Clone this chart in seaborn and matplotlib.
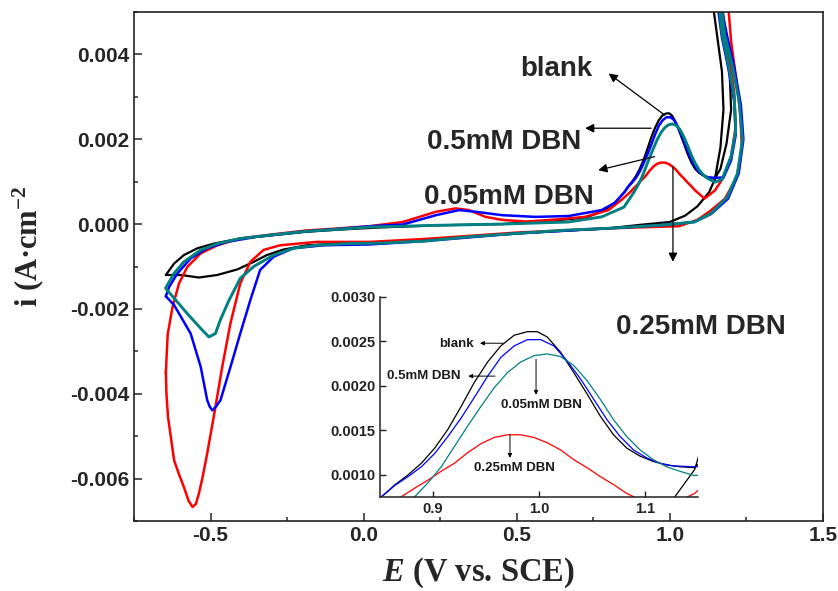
import matplotlib
matplotlib.use("Agg")
import matplotlib.pyplot as plt
import seaborn as sns
from matplotlib.ticker import MultipleLocator, FormatStrFormatter

# cyclic voltammograms, E (V vs. SCE) and i (A/cm2), traced around each loop
black_E = [-0.646, -0.619, -0.587, -0.543, -0.489, -0.403, -0.294, -0.186, -0.078, 0.052, 0.236, 0.452, 0.615,
           0.723, 0.78, 0.82,
           0.8516, 0.864, 0.8766, 0.889, 0.9016, 0.914, 0.9266, 0.939, 0.9516, 0.964, 0.9766, 0.989, 0.9984,
           1.0078, 1.0203, 1.0328, 1.0453, 1.0578, 1.0703, 1.0828, 1.0953, 1.1078, 1.1203, 1.1328, 1.1469,
           1.165, 1.185, 1.2, 1.195, 1.18, 1.165, 1.14, 1.155, 1.17, 1.175,
           1.165, 1.1469, 1.128, 1.09, 1.05, 1.0, 0.9, 0.8, 0.5, 0.2, 0.052, -0.078, -0.186, -0.262, -0.316,
           -0.359, -0.413, -0.478, -0.538, -0.597, -0.646]
black_i = [-0.0012, -0.00093, -0.00073, -0.00057, -0.00046, -0.00034, -0.00026, -0.00018, -0.00013, -0.00008,
           -0.00003, 0.0, 0.00008, 0.00015, 0.0003, 0.0005,
           0.000754, 0.000887, 0.0010, 0.00113, 0.0013, 0.00151, 0.00177, 0.00204, 0.00227, 0.00245, 0.00257,
           0.00261, 0.00261, 0.00255, 0.00238, 0.00215, 0.00191, 0.00166, 0.00145, 0.0013, 0.00121, 0.00115,
           0.00111, 0.00109, 0.00108,
           0.0013, 0.0019, 0.0027, 0.0036, 0.0044, 0.0052, 0.0052, 0.0044, 0.0036, 0.0027,
           0.0018, 0.00106, 0.00075, 0.00042, 0.0002, 0.00005, -0.00002, -0.0001, -0.00022, -0.00038, -0.00046,
           -0.00046, -0.0005, -0.0006, -0.00073, -0.00089, -0.00107, -0.0012, -0.00126, -0.0012, -0.0012]

red_E = [-0.646, -0.64, -0.624, -0.603, -0.576, -0.532, -0.478, -0.403, -0.294, -0.186, -0.078, 0.02, 0.128,
         0.236, 0.301, 0.344, 0.398, 0.452, 0.528, 0.615, 0.723, 0.799, 0.842,
         0.8703, 0.8828, 0.8953, 0.9078, 0.9203, 0.9328, 0.9453, 0.9578, 0.9703, 0.9828, 0.9953, 1.0078,
         1.0203, 1.0328, 1.0453, 1.0578, 1.0703, 1.0828, 1.0891,
         1.113, 1.1469, 1.175, 1.2, 1.215, 1.21, 1.195, 1.18, 1.17,
         1.19, 1.2, 1.215, 1.23, 1.235, 1.218, 1.18, 1.13, 1.09, 1.03, 0.8, 0.5, 0.2, 0.02, -0.154,
         -0.273, -0.327, -0.37, -0.403, -0.435, -0.462, -0.484, -0.511, -0.527, -0.538, -0.548, -0.559,
         -0.572, -0.587, -0.603, -0.619, -0.639, -0.644, -0.646]
red_i = [-0.0035, -0.0026, -0.00195, -0.0014, -0.00101, -0.00069, -0.0005, -0.00034, -0.00024, -0.00015,
         -0.0001, -0.00005, 0.00005, 0.00029, 0.00037, 0.00033, 0.00017, 0.0001, 0.00006, 0.0001, 0.00017,
         0.00033, 0.00057,
         0.000754, 0.00085, 0.00094, 0.00104, 0.00113, 0.00125, 0.00135, 0.00142, 0.00145, 0.00145, 0.00142,
         0.00136, 0.00128, 0.00117, 0.00108, 0.00098, 0.00089, 0.00079, 0.000754,
         0.0006, 0.00079, 0.0011, 0.0016, 0.0023, 0.0031, 0.0039, 0.0046, 0.0052,
         0.0052, 0.0043, 0.0035, 0.0026, 0.0018, 0.0011, 0.0006, 0.0003, 0.0001, -0.00005, -0.0001, -0.0002,
         -0.00035, -0.00042, -0.00042, -0.0005, -0.00061, -0.00089, -0.0014, -0.00234, -0.00337, -0.00431,
         -0.00541, -0.006, -0.00635, -0.0066, -0.00667, -0.00652, -0.0062, -0.0059, -0.00557, -0.00454,
         -0.004, -0.0035]

blue_E = [-0.646, -0.635, -0.608, -0.565, -0.511, -0.446, -0.35, -0.2, -0.078, 0.02, 0.128, 0.236, 0.312,
          0.366, 0.452, 0.561, 0.669, 0.777, 0.82,
          0.8516, 0.864, 0.8766, 0.889, 0.9016, 0.914, 0.9266, 0.939, 0.9516, 0.964, 0.9766, 0.989, 1.0016,
          1.0141, 1.0266, 1.0391, 1.0516, 1.0641, 1.0766, 1.0891, 1.1016, 1.1141, 1.1266, 1.1469,
          1.175, 1.2, 1.215, 1.21, 1.19, 1.17, 1.155,
          1.165, 1.185, 1.21, 1.232, 1.24, 1.225, 1.19, 1.135, 1.08, 0.98, 0.8, 0.5, 0.2, 0.02, -0.132, -0.23,
          -0.294, -0.338, -0.37, -0.403, -0.435, -0.4675, -0.482, -0.4945, -0.503, -0.511, -0.532, -0.565,
          -0.619, -0.646]
blue_i = [-0.0017, -0.00148, -0.00116, -0.00081, -0.00057, -0.00042, -0.0003, -0.00018, -0.00011, -0.00005,
          -0.00001, 0.00021, 0.00033, 0.00029, 0.00021, 0.00017, 0.00019, 0.00033, 0.0005,
          0.000754, 0.00088, 0.00098, 0.00109, 0.00124, 0.00143, 0.00164, 0.00187, 0.00211, 0.00232, 0.00245,
          0.00252, 0.00252, 0.00245, 0.00228, 0.00208, 0.00185, 0.00162, 0.00143, 0.00128, 0.00119, 0.00113,
          0.0011, 0.00109,
          0.0011, 0.0015, 0.0021, 0.0029, 0.0037, 0.0044, 0.0052,
          0.0052, 0.0045, 0.0037, 0.0028, 0.002, 0.0012, 0.0006, 0.00024, 0.00005, -0.00002, -0.0001, -0.00022,
          -0.0004, -0.00048, -0.0005, -0.00057, -0.00077, -0.00108, -0.00179, -0.00258, -0.00337, -0.00415,
          -0.0043, -0.00439, -0.0043, -0.00415, -0.00337, -0.00258, -0.00191, -0.0017]

teal_E = [-0.646, -0.619, -0.587, -0.532, -0.478, -0.403, -0.294, -0.186, -0.078, 0.02, 0.236, 0.452, 0.669,
          0.777, 0.85,
          0.8828, 0.8953, 0.9078, 0.9203, 0.9328, 0.9453, 0.9578, 0.9703, 0.9828, 0.9953, 1.0078, 1.0203,
          1.0328, 1.0453, 1.0578, 1.0703, 1.0828, 1.0953, 1.1078, 1.1203, 1.1328, 1.1469,
          1.17, 1.2, 1.215, 1.21, 1.19, 1.17, 1.16,
          1.167, 1.178, 1.205, 1.226, 1.237, 1.221, 1.188, 1.134, 1.08, 0.983, 0.8, 0.669, 0.5, 0.344, 0.2,
          0.05, -0.056, -0.154, -0.23, -0.294, -0.359, -0.403, -0.44, -0.468, -0.484, -0.5055, -0.532, -0.576,
          -0.646]
teal_i = [-0.0015, -0.00116, -0.00089, -0.00061, -0.00046, -0.00034, -0.00025, -0.00017, -0.00012, -0.00007,
          -0.00003, 0.0, 0.00005, 0.00017, 0.0004,
          0.000754, 0.00091, 0.00109, 0.00132, 0.00155, 0.00177, 0.00198, 0.00215, 0.00227, 0.00234, 0.00236,
          0.00233, 0.00223, 0.00206, 0.00185, 0.00162, 0.00143, 0.00128, 0.00117, 0.00109, 0.00104, 0.00099,
          0.00105, 0.0016, 0.0022, 0.003, 0.0038, 0.0045, 0.0052,
          0.0052, 0.0045, 0.0037, 0.0029, 0.002, 0.0012, 0.00064, 0.00025, 0.00005, -0.00002, -0.0001,
          -0.00014, -0.00022, -0.0003, -0.0004, -0.00045, -0.00046, -0.0005, -0.00057, -0.00073, -0.001,
          -0.00128, -0.0018, -0.00226, -0.00258, -0.00266, -0.00246, -0.00211, -0.00152]

curves = [
    (black_E, black_i, "#000000", 1.6),
    (red_E, red_i, "#ff0000", 1.8),
    (blue_E, blue_i, "#0000ff", 1.8),
    (teal_E, teal_i, "#008080", 2.1),
]

sns.set_theme(style="ticks")
plt.rcParams["font.family"] = ["Liberation Sans", "DejaVu Sans"]
plt.rcParams["font.weight"] = "bold"
plt.rcParams["mathtext.fontset"] = "custom"
plt.rcParams["mathtext.rm"] = "Liberation Serif:bold"
plt.rcParams["mathtext.it"] = "Liberation Serif:bold:italic"
plt.rcParams["mathtext.bf"] = "Liberation Serif:bold"

fig = plt.figure(figsize=(8.38, 5.91), dpi=100)
ax = fig.add_axes([134 / 838, 1 - 521 / 591, 689 / 838, 509 / 591])

for E, i, c, lw in curves:
    assert len(E) == len(i)
    sns.lineplot(x=E, y=i, sort=False, estimator=None, color=c, lw=lw, ax=ax)

ax.set_xlim(-0.75, 1.5)
ax.set_ylim(-0.007, 0.005)
ax.xaxis.set_major_locator(MultipleLocator(0.5))
ax.xaxis.set_minor_locator(MultipleLocator(0.25))
ax.yaxis.set_major_locator(MultipleLocator(0.002))
ax.yaxis.set_minor_locator(MultipleLocator(0.001))
ax.xaxis.set_major_formatter(FormatStrFormatter("%.1f"))
ax.yaxis.set_major_formatter(FormatStrFormatter("%.3f"))
ax.tick_params(which="both", direction="in", top=False, right=False, width=1.1, labelsize=15)
ax.tick_params(which="major", length=6)
ax.tick_params(which="minor", length=3)
for s in ax.spines.values():
    s.set_linewidth(1.2)
    s.set_color("#222222")

ax.set_xlabel(r"$\mathit{E}$ (V vs. SCE)", fontsize=23.5, fontfamily="Liberation Serif",
              fontweight="bold", labelpad=8)
ax.set_ylabel(r"i (A·cm$^{-2}$", fontsize=22, fontfamily="Liberation Serif", fontweight="bold")
ax.yaxis.set_label_coords(-0.128, 0.54)

arrow = dict(arrowstyle="-|>", color="black", lw=0.9, mutation_scale=13, shrinkA=0, shrinkB=0)
ax.annotate("", xy=(0.80, 0.00355), xytext=(0.983, 0.00257), arrowprops=arrow)
ax.annotate("", xy=(0.723, 0.00226), xytext=(0.939, 0.00226), arrowprops=arrow)
ax.annotate("", xy=(0.766, 0.00127), xytext=(0.95, 0.00159), arrowprops=arrow)
ax.annotate("", xy=(1.01, -0.00089), xytext=(1.01, 0.00135), arrowprops=arrow)

lab = dict(fontsize=20, fontweight="bold", ha="center", va="center")
ax.text(0.63, 0.00366, "blank", **lab)
ax.text(0.458, 0.00193, "0.5mM DBN", **lab)
ax.text(0.474, 0.00064, "0.05mM DBN", **lab)
ax.text(1.101, -0.00243, "0.25mM DBN", **lab)

# inset: zoom on the anodic peak
ax_in = fig.add_axes([380 / 838, 1 - 497 / 591, 318 / 838, 200 / 591])
ax_in.patch.set_alpha(0)
for E, i, c, lw in curves:
    sns.lineplot(x=E, y=i, sort=False, estimator=None, color=c, lw=0.9, ax=ax_in)
ax_in.set_xlim(0.85, 1.15)
ax_in.set_ylim(0.00075, 0.0030)
ax_in.set_xticks([0.9, 1.0, 1.1])
ax_in.set_yticks([0.0010, 0.0015, 0.0020, 0.0025, 0.0030])
ax_in.xaxis.set_major_formatter(FormatStrFormatter("%.1f"))
ax_in.yaxis.set_major_formatter(FormatStrFormatter("%.4f"))
ax_in.tick_params(direction="in", length=4, width=1, labelsize=10.5, colors="#222222")
ax_in.spines["top"].set_visible(False)
ax_in.spines["right"].set_visible(False)
for s in ("left", "bottom"):
    ax_in.spines[s].set_linewidth(1.1)
    ax_in.spines[s].set_color("#222222")

arrow_in = dict(arrowstyle="-|>", color="black", lw=0.7, mutation_scale=6, shrinkA=0, shrinkB=0)
ax_in.annotate("", xy=(0.9443, 0.00248), xytext=(0.9663, 0.00248), arrowprops=arrow_in)
ax_in.annotate("", xy=(0.9333, 0.00211), xytext=(0.9585, 0.00211), arrowprops=arrow_in)
ax_in.annotate("", xy=(0.9972, 0.0019), xytext=(0.9972, 0.0023), arrowprops=arrow_in)
ax_in.annotate("", xy=(0.9726, 0.00119), xytext=(0.9726, 0.00145), arrowprops=arrow_in)

lab_in = dict(fontsize=9.5, fontweight="bold", ha="center", va="center", color="#1a1a1a")
ax_in.text(0.9224, 0.00247, "blank", **lab_in)
ax_in.text(0.8915, 0.00211, "0.5mM DBN", **lab_in)
ax_in.text(1.0019, 0.00178, "0.05mM DBN", **lab_in)
ax_in.text(0.9764, 0.00108, "0.25mM DBN", **lab_in)

fig.savefig("out.png", dpi=100)
